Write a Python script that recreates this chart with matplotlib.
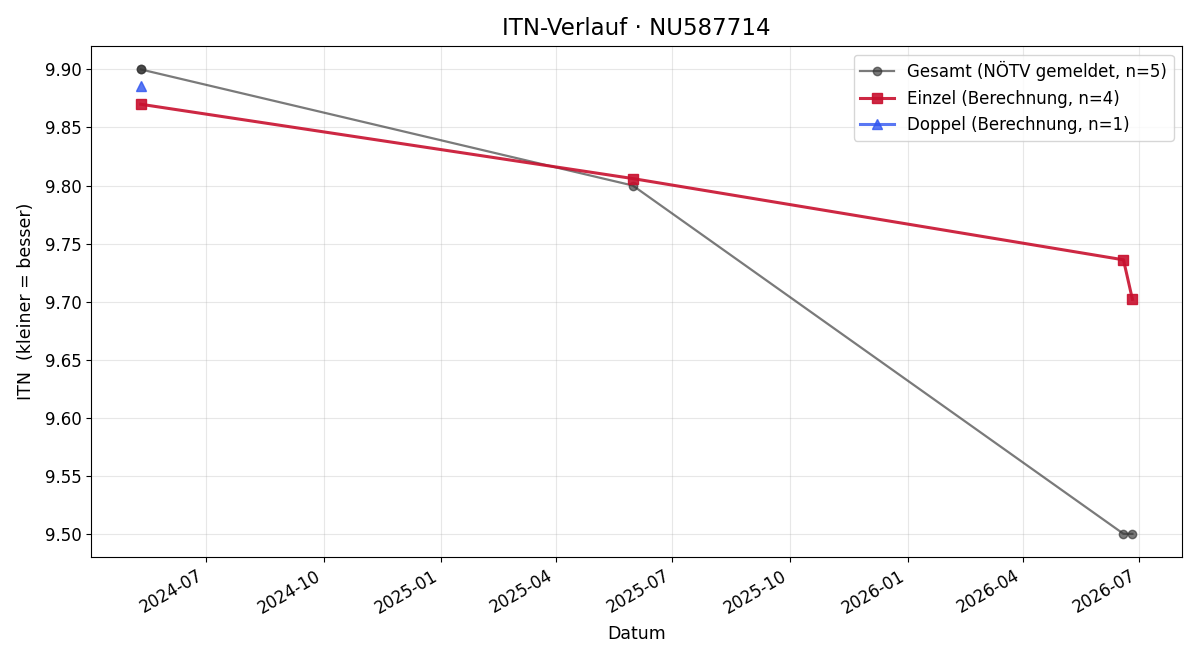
import pandas as pd
import matplotlib
matplotlib.use("Agg")
import matplotlib.pyplot as plt
import matplotlib.dates as mdates

# ITN history values
gesamt_dates = ["2024-05-11", "2024-05-11", "2025-05-31", "2026-06-19", "2026-06-26"]
gesamt_itn = [9.90, 9.90, 9.80, 9.50, 9.50]

einzel_dates = ["2024-05-11", "2025-05-31", "2026-06-19", "2026-06-26"]
einzel_itn = [9.870, 9.806, 9.736, 9.702]

doppel_dates = ["2024-05-11"]
doppel_itn = [9.886]

fig, ax = plt.subplots(figsize=(12, 6.6), dpi=100)

ax.plot(pd.to_datetime(gesamt_dates), gesamt_itn, color="#333333", alpha=0.65,
        marker="o", markersize=6, linewidth=1.6, label="Gesamt (NÖTV gemeldet, n=5)")
ax.plot(pd.to_datetime(einzel_dates), einzel_itn, color="#c8102e", alpha=0.9,
        marker="s", markersize=7, linewidth=2.2, label="Einzel (Berechnung, n=4)")
ax.plot(pd.to_datetime(doppel_dates), doppel_itn, color="#2f55f0", alpha=0.8,
        marker="^", markersize=7, linewidth=2.2, label="Doppel (Berechnung, n=1)")

ax.set_title("ITN-Verlauf · NU587714", fontsize=16.5, pad=8)
ax.set_xlabel("Datum", fontsize=12.5, labelpad=6)
ax.set_ylabel("ITN  (kleiner = besser)", fontsize=12.5, labelpad=7)
ax.set_ylim(9.48, 9.92)
ax.yaxis.set_major_formatter(plt.FormatStrFormatter("%.2f"))
ax.xaxis.set_major_locator(mdates.MonthLocator(bymonth=[1, 4, 7, 10]))
ax.xaxis.set_major_formatter(mdates.DateFormatter("%Y-%m"))
ax.tick_params(labelsize=12)
ax.grid(True, alpha=0.3)
ax.legend(loc="upper right", fontsize=12)
fig.autofmt_xdate()
fig.subplots_adjust(left=0.076, right=0.985, top=0.930, bottom=0.156)
fig.savefig("out.png")
